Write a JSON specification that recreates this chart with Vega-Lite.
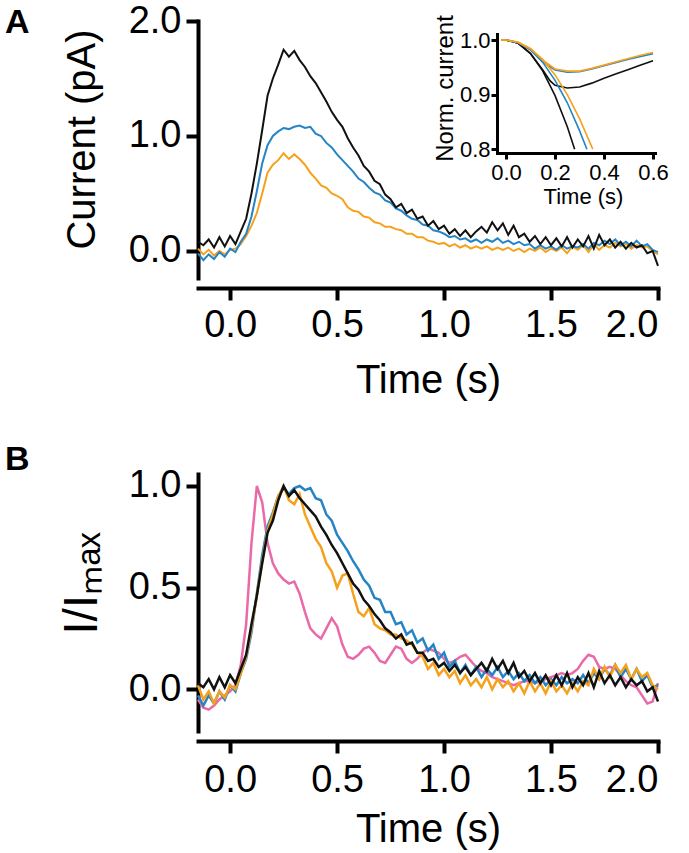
{
"$schema":"https://vega.github.io/schema/vega-lite/v6.json",
"background":"white",
"padding":{"left":5,"top":2,"right":0,"bottom":5},
"config":{"view":{"stroke":null},"font":"Liberation Sans",
"axis":{"grid":false,"domainColor":"black","tickColor":"black","labelColor":"black","titleColor":"black","labelFont":"Liberation Sans","titleFont":"Liberation Sans","titleFontWeight":"normal","domainCap":"square"}},
"datasets":{
"A":[
{"s":"o","t":-0.15,"v":0.02},{"s":"o","t":-0.125,"v":-0.03},{"s":"o","t":-0.1,"v":0.01},{"s":"o","t":-0.075,"v":-0.04},{"s":"o","t":-0.05,"v":0.0},{"s":"o","t":-0.025,"v":-0.03},{"s":"o","t":0,"v":0.01},{"s":"o","t":0.025,"v":0.02},{"s":"o","t":0.05,"v":0.06},{"s":"o","t":0.075,"v":0.13},{"s":"o","t":0.1,"v":0.22},{"s":"o","t":0.125,"v":0.33},{"s":"o","t":0.15,"v":0.5},{"s":"o","t":0.175,"v":0.68},{"s":"o","t":0.2,"v":0.75},{"s":"o","t":0.225,"v":0.79},{"s":"o","t":0.25,"v":0.85},{"s":"o","t":0.275,"v":0.8},{"s":"o","t":0.3,"v":0.84},{"s":"o","t":0.325,"v":0.8},{"s":"o","t":0.35,"v":0.75},{"s":"o","t":0.375,"v":0.68},{"s":"o","t":0.4,"v":0.63},{"s":"o","t":0.425,"v":0.57},{"s":"o","t":0.45,"v":0.55},{"s":"o","t":0.475,"v":0.5},{"s":"o","t":0.5,"v":0.48},{"s":"o","t":0.525,"v":0.45},{"s":"o","t":0.55,"v":0.38},{"s":"o","t":0.575,"v":0.35},{"s":"o","t":0.6,"v":0.34},{"s":"o","t":0.625,"v":0.3},{"s":"o","t":0.65,"v":0.29},{"s":"o","t":0.675,"v":0.25},{"s":"o","t":0.7,"v":0.24},{"s":"o","t":0.725,"v":0.21},{"s":"o","t":0.75,"v":0.21},{"s":"o","t":0.775,"v":0.19},{"s":"o","t":0.8,"v":0.18},{"s":"o","t":0.825,"v":0.15},{"s":"o","t":0.85,"v":0.15},{"s":"o","t":0.875,"v":0.12},{"s":"o","t":0.9,"v":0.12},{"s":"o","t":0.925,"v":0.09},{"s":"o","t":0.95,"v":0.08},{"s":"o","t":0.975,"v":0.06},{"s":"o","t":1,"v":0.07},{"s":"o","t":1.025,"v":0.04},{"s":"o","t":1.05,"v":0.06},{"s":"o","t":1.075,"v":0.03},{"s":"o","t":1.1,"v":0.05},{"s":"o","t":1.125,"v":0.02},{"s":"o","t":1.15,"v":0.04},{"s":"o","t":1.175,"v":0.02},{"s":"o","t":1.2,"v":0.04},{"s":"o","t":1.225,"v":0.01},{"s":"o","t":1.25,"v":0.03},{"s":"o","t":1.275,"v":0.01},{"s":"o","t":1.3,"v":0.03},{"s":"o","t":1.325,"v":0.0},{"s":"o","t":1.35,"v":0.02},{"s":"o","t":1.375,"v":-0.01},{"s":"o","t":1.4,"v":0.02},{"s":"o","t":1.425,"v":0.0},{"s":"o","t":1.45,"v":0.03},{"s":"o","t":1.475,"v":-0.01},{"s":"o","t":1.5,"v":0.02},{"s":"o","t":1.525,"v":0.0},{"s":"o","t":1.55,"v":0.03},{"s":"o","t":1.575,"v":-0.02},{"s":"o","t":1.6,"v":0.04},{"s":"o","t":1.625,"v":0.01},{"s":"o","t":1.65,"v":0.05},{"s":"o","t":1.675,"v":-0.01},{"s":"o","t":1.7,"v":0.06},{"s":"o","t":1.725,"v":0.01},{"s":"o","t":1.75,"v":0.05},{"s":"o","t":1.775,"v":0.03},{"s":"o","t":1.8,"v":0.07},{"s":"o","t":1.825,"v":0.04},{"s":"o","t":1.85,"v":0.06},{"s":"o","t":1.875,"v":0.02},{"s":"o","t":1.9,"v":0.05},{"s":"o","t":1.925,"v":0.03},{"s":"o","t":1.95,"v":0.04},{"s":"o","t":1.975,"v":0.0},{"s":"o","t":2,"v":-0.03},
{"s":"b","t":-0.15,"v":-0.02},{"s":"b","t":-0.125,"v":-0.08},{"s":"b","t":-0.1,"v":-0.03},{"s":"b","t":-0.075,"v":-0.07},{"s":"b","t":-0.05,"v":-0.01},{"s":"b","t":-0.025,"v":-0.05},{"s":"b","t":0,"v":0.02},{"s":"b","t":0.025,"v":-0.01},{"s":"b","t":0.05,"v":0.08},{"s":"b","t":0.075,"v":0.15},{"s":"b","t":0.1,"v":0.3},{"s":"b","t":0.125,"v":0.52},{"s":"b","t":0.15,"v":0.76},{"s":"b","t":0.175,"v":0.92},{"s":"b","t":0.2,"v":1.0},{"s":"b","t":0.225,"v":1.04},{"s":"b","t":0.25,"v":1.07},{"s":"b","t":0.275,"v":1.06},{"s":"b","t":0.3,"v":1.08},{"s":"b","t":0.325,"v":1.09},{"s":"b","t":0.35,"v":1.07},{"s":"b","t":0.375,"v":1.08},{"s":"b","t":0.4,"v":1.02},{"s":"b","t":0.425,"v":1.0},{"s":"b","t":0.45,"v":0.94},{"s":"b","t":0.475,"v":0.9},{"s":"b","t":0.5,"v":0.84},{"s":"b","t":0.525,"v":0.79},{"s":"b","t":0.55,"v":0.74},{"s":"b","t":0.575,"v":0.69},{"s":"b","t":0.6,"v":0.63},{"s":"b","t":0.625,"v":0.6},{"s":"b","t":0.65,"v":0.55},{"s":"b","t":0.675,"v":0.51},{"s":"b","t":0.7,"v":0.49},{"s":"b","t":0.725,"v":0.44},{"s":"b","t":0.75,"v":0.42},{"s":"b","t":0.775,"v":0.37},{"s":"b","t":0.8,"v":0.35},{"s":"b","t":0.825,"v":0.31},{"s":"b","t":0.85,"v":0.28},{"s":"b","t":0.875,"v":0.27},{"s":"b","t":0.9,"v":0.23},{"s":"b","t":0.925,"v":0.22},{"s":"b","t":0.95,"v":0.18},{"s":"b","t":0.975,"v":0.17},{"s":"b","t":1,"v":0.15},{"s":"b","t":1.025,"v":0.12},{"s":"b","t":1.05,"v":0.13},{"s":"b","t":1.075,"v":0.1},{"s":"b","t":1.1,"v":0.11},{"s":"b","t":1.125,"v":0.08},{"s":"b","t":1.15,"v":0.1},{"s":"b","t":1.175,"v":0.07},{"s":"b","t":1.2,"v":0.1},{"s":"b","t":1.225,"v":0.08},{"s":"b","t":1.25,"v":0.11},{"s":"b","t":1.275,"v":0.07},{"s":"b","t":1.3,"v":0.09},{"s":"b","t":1.325,"v":0.06},{"s":"b","t":1.35,"v":0.08},{"s":"b","t":1.375,"v":0.05},{"s":"b","t":1.4,"v":0.06},{"s":"b","t":1.425,"v":0.02},{"s":"b","t":1.45,"v":0.05},{"s":"b","t":1.475,"v":0.02},{"s":"b","t":1.5,"v":0.04},{"s":"b","t":1.525,"v":0.01},{"s":"b","t":1.55,"v":0.05},{"s":"b","t":1.575,"v":0.02},{"s":"b","t":1.6,"v":0.04},{"s":"b","t":1.625,"v":0.03},{"s":"b","t":1.65,"v":0.06},{"s":"b","t":1.675,"v":0.02},{"s":"b","t":1.7,"v":0.07},{"s":"b","t":1.725,"v":0.05},{"s":"b","t":1.75,"v":0.09},{"s":"b","t":1.775,"v":0.06},{"s":"b","t":1.8,"v":0.1},{"s":"b","t":1.825,"v":0.05},{"s":"b","t":1.85,"v":0.08},{"s":"b","t":1.875,"v":0.04},{"s":"b","t":1.9,"v":0.09},{"s":"b","t":1.925,"v":0.04},{"s":"b","t":1.95,"v":0.06},{"s":"b","t":1.975,"v":0.01},{"s":"b","t":2,"v":-0.01},
{"s":"k","t":-0.15,"v":0.08},{"s":"k","t":-0.125,"v":0.05},{"s":"k","t":-0.1,"v":0.1},{"s":"k","t":-0.075,"v":0.03},{"s":"k","t":-0.05,"v":0.12},{"s":"k","t":-0.025,"v":0.04},{"s":"k","t":0,"v":0.13},{"s":"k","t":0.025,"v":0.06},{"s":"k","t":0.05,"v":0.17},{"s":"k","t":0.075,"v":0.28},{"s":"k","t":0.1,"v":0.5},{"s":"k","t":0.125,"v":0.76},{"s":"k","t":0.15,"v":1.05},{"s":"k","t":0.175,"v":1.35},{"s":"k","t":0.2,"v":1.5},{"s":"k","t":0.225,"v":1.62},{"s":"k","t":0.25,"v":1.75},{"s":"k","t":0.275,"v":1.69},{"s":"k","t":0.3,"v":1.74},{"s":"k","t":0.325,"v":1.66},{"s":"k","t":0.35,"v":1.6},{"s":"k","t":0.375,"v":1.52},{"s":"k","t":0.4,"v":1.46},{"s":"k","t":0.425,"v":1.38},{"s":"k","t":0.45,"v":1.3},{"s":"k","t":0.475,"v":1.21},{"s":"k","t":0.5,"v":1.14},{"s":"k","t":0.525,"v":1.08},{"s":"k","t":0.55,"v":0.98},{"s":"k","t":0.575,"v":0.9},{"s":"k","t":0.6,"v":0.83},{"s":"k","t":0.625,"v":0.74},{"s":"k","t":0.65,"v":0.69},{"s":"k","t":0.675,"v":0.61},{"s":"k","t":0.7,"v":0.58},{"s":"k","t":0.725,"v":0.49},{"s":"k","t":0.75,"v":0.45},{"s":"k","t":0.775,"v":0.38},{"s":"k","t":0.8,"v":0.41},{"s":"k","t":0.825,"v":0.33},{"s":"k","t":0.85,"v":0.36},{"s":"k","t":0.875,"v":0.28},{"s":"k","t":0.9,"v":0.3},{"s":"k","t":0.925,"v":0.22},{"s":"k","t":0.95,"v":0.26},{"s":"k","t":0.975,"v":0.19},{"s":"k","t":1,"v":0.22},{"s":"k","t":1.025,"v":0.15},{"s":"k","t":1.05,"v":0.19},{"s":"k","t":1.075,"v":0.13},{"s":"k","t":1.1,"v":0.18},{"s":"k","t":1.125,"v":0.12},{"s":"k","t":1.15,"v":0.17},{"s":"k","t":1.175,"v":0.21},{"s":"k","t":1.2,"v":0.16},{"s":"k","t":1.225,"v":0.25},{"s":"k","t":1.25,"v":0.18},{"s":"k","t":1.275,"v":0.24},{"s":"k","t":1.3,"v":0.14},{"s":"k","t":1.325,"v":0.22},{"s":"k","t":1.35,"v":0.12},{"s":"k","t":1.375,"v":0.15},{"s":"k","t":1.4,"v":0.08},{"s":"k","t":1.425,"v":0.13},{"s":"k","t":1.45,"v":0.06},{"s":"k","t":1.475,"v":0.12},{"s":"k","t":1.5,"v":0.05},{"s":"k","t":1.525,"v":0.11},{"s":"k","t":1.55,"v":0.04},{"s":"k","t":1.575,"v":0.12},{"s":"k","t":1.6,"v":0.03},{"s":"k","t":1.625,"v":0.1},{"s":"k","t":1.65,"v":0.04},{"s":"k","t":1.675,"v":0.13},{"s":"k","t":1.7,"v":0.02},{"s":"k","t":1.725,"v":0.14},{"s":"k","t":1.75,"v":0.05},{"s":"k","t":1.775,"v":0.1},{"s":"k","t":1.8,"v":0.03},{"s":"k","t":1.825,"v":0.08},{"s":"k","t":1.85,"v":0.02},{"s":"k","t":1.875,"v":0.07},{"s":"k","t":1.9,"v":0.03},{"s":"k","t":1.925,"v":0.05},{"s":"k","t":1.95,"v":-0.02},{"s":"k","t":1.975,"v":0.0},{"s":"k","t":2,"v":-0.13}
],
"B":[
{"s":"p","t":-0.15,"v":-0.05},{"s":"p","t":-0.125,"v":-0.09},{"s":"p","t":-0.1,"v":-0.1},{"s":"p","t":-0.075,"v":-0.08},{"s":"p","t":-0.05,"v":-0.05},{"s":"p","t":-0.025,"v":-0.03},{"s":"p","t":0,"v":-0.01},{"s":"p","t":0.025,"v":0.02},{"s":"p","t":0.05,"v":0.12},{"s":"p","t":0.075,"v":0.32},{"s":"p","t":0.1,"v":0.72},{"s":"p","t":0.125,"v":1.0},{"s":"p","t":0.15,"v":0.92},{"s":"p","t":0.175,"v":0.72},{"s":"p","t":0.2,"v":0.62},{"s":"p","t":0.225,"v":0.57},{"s":"p","t":0.25,"v":0.54},{"s":"p","t":0.275,"v":0.52},{"s":"p","t":0.3,"v":0.53},{"s":"p","t":0.325,"v":0.47},{"s":"p","t":0.35,"v":0.38},{"s":"p","t":0.375,"v":0.3},{"s":"p","t":0.4,"v":0.27},{"s":"p","t":0.425,"v":0.25},{"s":"p","t":0.45,"v":0.3},{"s":"p","t":0.475,"v":0.35},{"s":"p","t":0.5,"v":0.31},{"s":"p","t":0.525,"v":0.22},{"s":"p","t":0.55,"v":0.16},{"s":"p","t":0.575,"v":0.15},{"s":"p","t":0.6,"v":0.17},{"s":"p","t":0.625,"v":0.2},{"s":"p","t":0.65,"v":0.21},{"s":"p","t":0.675,"v":0.18},{"s":"p","t":0.7,"v":0.14},{"s":"p","t":0.725,"v":0.13},{"s":"p","t":0.75,"v":0.17},{"s":"p","t":0.775,"v":0.21},{"s":"p","t":0.8,"v":0.2},{"s":"p","t":0.825,"v":0.15},{"s":"p","t":0.85,"v":0.13},{"s":"p","t":0.875,"v":0.15},{"s":"p","t":0.9,"v":0.18},{"s":"p","t":0.925,"v":0.2},{"s":"p","t":0.95,"v":0.19},{"s":"p","t":0.975,"v":0.18},{"s":"p","t":1,"v":0.15},{"s":"p","t":1.025,"v":0.13},{"s":"p","t":1.05,"v":0.14},{"s":"p","t":1.075,"v":0.16},{"s":"p","t":1.1,"v":0.17},{"s":"p","t":1.125,"v":0.14},{"s":"p","t":1.15,"v":0.11},{"s":"p","t":1.175,"v":0.09},{"s":"p","t":1.2,"v":0.08},{"s":"p","t":1.225,"v":0.06},{"s":"p","t":1.25,"v":0.05},{"s":"p","t":1.275,"v":0.04},{"s":"p","t":1.3,"v":0.03},{"s":"p","t":1.325,"v":0.02},{"s":"p","t":1.35,"v":0.03},{"s":"p","t":1.375,"v":0.04},{"s":"p","t":1.4,"v":0.04},{"s":"p","t":1.425,"v":0.03},{"s":"p","t":1.45,"v":0.04},{"s":"p","t":1.475,"v":0.05},{"s":"p","t":1.5,"v":0.06},{"s":"p","t":1.525,"v":0.07},{"s":"p","t":1.55,"v":0.08},{"s":"p","t":1.575,"v":0.07},{"s":"p","t":1.6,"v":0.08},{"s":"p","t":1.625,"v":0.1},{"s":"p","t":1.65,"v":0.14},{"s":"p","t":1.675,"v":0.17},{"s":"p","t":1.7,"v":0.16},{"s":"p","t":1.725,"v":0.11},{"s":"p","t":1.75,"v":0.1},{"s":"p","t":1.775,"v":0.11},{"s":"p","t":1.8,"v":0.1},{"s":"p","t":1.825,"v":0.07},{"s":"p","t":1.85,"v":0.04},{"s":"p","t":1.875,"v":0.02},{"s":"p","t":1.9,"v":0.01},{"s":"p","t":1.925,"v":-0.03},{"s":"p","t":1.95,"v":-0.07},{"s":"p","t":1.975,"v":-0.06},{"s":"p","t":2,"v":0.03},
{"s":"b","t":-0.15,"v":-0.03},{"s":"b","t":-0.125,"v":-0.08},{"s":"b","t":-0.1,"v":-0.03},{"s":"b","t":-0.075,"v":-0.07},{"s":"b","t":-0.05,"v":-0.01},{"s":"b","t":-0.025,"v":-0.05},{"s":"b","t":0,"v":0.02},{"s":"b","t":0.025,"v":-0.01},{"s":"b","t":0.05,"v":0.08},{"s":"b","t":0.075,"v":0.15},{"s":"b","t":0.1,"v":0.28},{"s":"b","t":0.125,"v":0.47},{"s":"b","t":0.15,"v":0.66},{"s":"b","t":0.175,"v":0.8},{"s":"b","t":0.2,"v":0.87},{"s":"b","t":0.225,"v":0.95},{"s":"b","t":0.25,"v":0.99},{"s":"b","t":0.275,"v":0.96},{"s":"b","t":0.3,"v":0.99},{"s":"b","t":0.325,"v":1.0},{"s":"b","t":0.35,"v":0.98},{"s":"b","t":0.375,"v":0.99},{"s":"b","t":0.4,"v":0.94},{"s":"b","t":0.425,"v":0.93},{"s":"b","t":0.45,"v":0.86},{"s":"b","t":0.475,"v":0.83},{"s":"b","t":0.5,"v":0.76},{"s":"b","t":0.525,"v":0.72},{"s":"b","t":0.55,"v":0.68},{"s":"b","t":0.575,"v":0.63},{"s":"b","t":0.6,"v":0.59},{"s":"b","t":0.625,"v":0.54},{"s":"b","t":0.65,"v":0.51},{"s":"b","t":0.675,"v":0.45},{"s":"b","t":0.7,"v":0.44},{"s":"b","t":0.725,"v":0.38},{"s":"b","t":0.75,"v":0.38},{"s":"b","t":0.775,"v":0.32},{"s":"b","t":0.8,"v":0.33},{"s":"b","t":0.825,"v":0.27},{"s":"b","t":0.85,"v":0.29},{"s":"b","t":0.875,"v":0.23},{"s":"b","t":0.9,"v":0.25},{"s":"b","t":0.925,"v":0.19},{"s":"b","t":0.95,"v":0.22},{"s":"b","t":0.975,"v":0.15},{"s":"b","t":1,"v":0.18},{"s":"b","t":1.025,"v":0.11},{"s":"b","t":1.05,"v":0.14},{"s":"b","t":1.075,"v":0.08},{"s":"b","t":1.1,"v":0.12},{"s":"b","t":1.125,"v":0.07},{"s":"b","t":1.15,"v":0.11},{"s":"b","t":1.175,"v":0.06},{"s":"b","t":1.2,"v":0.1},{"s":"b","t":1.225,"v":0.07},{"s":"b","t":1.25,"v":0.11},{"s":"b","t":1.275,"v":0.06},{"s":"b","t":1.3,"v":0.09},{"s":"b","t":1.325,"v":0.05},{"s":"b","t":1.35,"v":0.08},{"s":"b","t":1.375,"v":0.04},{"s":"b","t":1.4,"v":0.07},{"s":"b","t":1.425,"v":0.03},{"s":"b","t":1.45,"v":0.06},{"s":"b","t":1.475,"v":0.02},{"s":"b","t":1.5,"v":0.05},{"s":"b","t":1.525,"v":0.02},{"s":"b","t":1.55,"v":0.06},{"s":"b","t":1.575,"v":0.03},{"s":"b","t":1.6,"v":0.05},{"s":"b","t":1.625,"v":0.03},{"s":"b","t":1.65,"v":0.07},{"s":"b","t":1.675,"v":0.03},{"s":"b","t":1.7,"v":0.08},{"s":"b","t":1.725,"v":0.05},{"s":"b","t":1.75,"v":0.1},{"s":"b","t":1.775,"v":0.07},{"s":"b","t":1.8,"v":0.12},{"s":"b","t":1.825,"v":0.06},{"s":"b","t":1.85,"v":0.1},{"s":"b","t":1.875,"v":0.05},{"s":"b","t":1.9,"v":0.1},{"s":"b","t":1.925,"v":0.04},{"s":"b","t":1.95,"v":0.07},{"s":"b","t":1.975,"v":0.01},{"s":"b","t":2,"v":0.02},
{"s":"o","t":-0.15,"v":0.02},{"s":"o","t":-0.125,"v":-0.05},{"s":"o","t":-0.1,"v":-0.01},{"s":"o","t":-0.075,"v":-0.07},{"s":"o","t":-0.05,"v":-0.01},{"s":"o","t":-0.025,"v":-0.04},{"s":"o","t":0,"v":0.02},{"s":"o","t":0.025,"v":0.0},{"s":"o","t":0.05,"v":0.08},{"s":"o","t":0.075,"v":0.16},{"s":"o","t":0.1,"v":0.3},{"s":"o","t":0.125,"v":0.46},{"s":"o","t":0.15,"v":0.63},{"s":"o","t":0.175,"v":0.78},{"s":"o","t":0.2,"v":0.86},{"s":"o","t":0.225,"v":0.95},{"s":"o","t":0.25,"v":1.0},{"s":"o","t":0.275,"v":0.93},{"s":"o","t":0.3,"v":0.91},{"s":"o","t":0.325,"v":0.96},{"s":"o","t":0.35,"v":0.86},{"s":"o","t":0.375,"v":0.8},{"s":"o","t":0.4,"v":0.74},{"s":"o","t":0.425,"v":0.7},{"s":"o","t":0.45,"v":0.62},{"s":"o","t":0.475,"v":0.58},{"s":"o","t":0.5,"v":0.5},{"s":"o","t":0.525,"v":0.56},{"s":"o","t":0.55,"v":0.57},{"s":"o","t":0.575,"v":0.47},{"s":"o","t":0.6,"v":0.38},{"s":"o","t":0.625,"v":0.36},{"s":"o","t":0.65,"v":0.4},{"s":"o","t":0.675,"v":0.32},{"s":"o","t":0.7,"v":0.3},{"s":"o","t":0.725,"v":0.29},{"s":"o","t":0.75,"v":0.27},{"s":"o","t":0.775,"v":0.27},{"s":"o","t":0.8,"v":0.25},{"s":"o","t":0.825,"v":0.24},{"s":"o","t":0.85,"v":0.22},{"s":"o","t":0.875,"v":0.18},{"s":"o","t":0.9,"v":0.16},{"s":"o","t":0.925,"v":0.1},{"s":"o","t":0.95,"v":0.13},{"s":"o","t":0.975,"v":0.07},{"s":"o","t":1,"v":0.1},{"s":"o","t":1.025,"v":0.06},{"s":"o","t":1.05,"v":0.09},{"s":"o","t":1.075,"v":0.03},{"s":"o","t":1.1,"v":0.07},{"s":"o","t":1.125,"v":0.02},{"s":"o","t":1.15,"v":0.05},{"s":"o","t":1.175,"v":0.01},{"s":"o","t":1.2,"v":0.06},{"s":"o","t":1.225,"v":0.0},{"s":"o","t":1.25,"v":0.05},{"s":"o","t":1.275,"v":0.01},{"s":"o","t":1.3,"v":0.04},{"s":"o","t":1.325,"v":-0.01},{"s":"o","t":1.35,"v":0.03},{"s":"o","t":1.375,"v":-0.02},{"s":"o","t":1.4,"v":0.04},{"s":"o","t":1.425,"v":-0.01},{"s":"o","t":1.45,"v":0.03},{"s":"o","t":1.475,"v":-0.02},{"s":"o","t":1.5,"v":0.04},{"s":"o","t":1.525,"v":-0.01},{"s":"o","t":1.55,"v":0.02},{"s":"o","t":1.575,"v":-0.02},{"s":"o","t":1.6,"v":0.03},{"s":"o","t":1.625,"v":-0.01},{"s":"o","t":1.65,"v":0.04},{"s":"o","t":1.675,"v":0.02},{"s":"o","t":1.7,"v":0.1},{"s":"o","t":1.725,"v":0.05},{"s":"o","t":1.75,"v":0.11},{"s":"o","t":1.775,"v":0.06},{"s":"o","t":1.8,"v":0.12},{"s":"o","t":1.825,"v":0.08},{"s":"o","t":1.85,"v":0.12},{"s":"o","t":1.875,"v":0.05},{"s":"o","t":1.9,"v":0.1},{"s":"o","t":1.925,"v":0.06},{"s":"o","t":1.95,"v":0.08},{"s":"o","t":1.975,"v":0.02},{"s":"o","t":2,"v":0.0},
{"s":"k","t":-0.15,"v":0.03},{"s":"k","t":-0.125,"v":0.01},{"s":"k","t":-0.1,"v":0.05},{"s":"k","t":-0.075,"v":0.0},{"s":"k","t":-0.05,"v":0.06},{"s":"k","t":-0.025,"v":0.01},{"s":"k","t":0,"v":0.07},{"s":"k","t":0.025,"v":0.03},{"s":"k","t":0.05,"v":0.1},{"s":"k","t":0.075,"v":0.17},{"s":"k","t":0.1,"v":0.32},{"s":"k","t":0.125,"v":0.46},{"s":"k","t":0.15,"v":0.62},{"s":"k","t":0.175,"v":0.77},{"s":"k","t":0.2,"v":0.83},{"s":"k","t":0.225,"v":0.93},{"s":"k","t":0.25,"v":1.0},{"s":"k","t":0.275,"v":0.95},{"s":"k","t":0.3,"v":0.98},{"s":"k","t":0.325,"v":0.94},{"s":"k","t":0.35,"v":0.91},{"s":"k","t":0.375,"v":0.88},{"s":"k","t":0.4,"v":0.85},{"s":"k","t":0.425,"v":0.8},{"s":"k","t":0.45,"v":0.76},{"s":"k","t":0.475,"v":0.71},{"s":"k","t":0.5,"v":0.67},{"s":"k","t":0.525,"v":0.62},{"s":"k","t":0.55,"v":0.57},{"s":"k","t":0.575,"v":0.52},{"s":"k","t":0.6,"v":0.49},{"s":"k","t":0.625,"v":0.44},{"s":"k","t":0.65,"v":0.41},{"s":"k","t":0.675,"v":0.37},{"s":"k","t":0.7,"v":0.34},{"s":"k","t":0.725,"v":0.3},{"s":"k","t":0.75,"v":0.28},{"s":"k","t":0.775,"v":0.25},{"s":"k","t":0.8,"v":0.27},{"s":"k","t":0.825,"v":0.22},{"s":"k","t":0.85,"v":0.23},{"s":"k","t":0.875,"v":0.18},{"s":"k","t":0.9,"v":0.18},{"s":"k","t":0.925,"v":0.14},{"s":"k","t":0.95,"v":0.15},{"s":"k","t":0.975,"v":0.11},{"s":"k","t":1,"v":0.13},{"s":"k","t":1.025,"v":0.09},{"s":"k","t":1.05,"v":0.12},{"s":"k","t":1.075,"v":0.08},{"s":"k","t":1.1,"v":0.11},{"s":"k","t":1.125,"v":0.07},{"s":"k","t":1.15,"v":0.1},{"s":"k","t":1.175,"v":0.13},{"s":"k","t":1.2,"v":0.09},{"s":"k","t":1.225,"v":0.15},{"s":"k","t":1.25,"v":0.1},{"s":"k","t":1.275,"v":0.14},{"s":"k","t":1.3,"v":0.08},{"s":"k","t":1.325,"v":0.13},{"s":"k","t":1.35,"v":0.06},{"s":"k","t":1.375,"v":0.09},{"s":"k","t":1.4,"v":0.04},{"s":"k","t":1.425,"v":0.08},{"s":"k","t":1.45,"v":0.03},{"s":"k","t":1.475,"v":0.07},{"s":"k","t":1.5,"v":0.02},{"s":"k","t":1.525,"v":0.07},{"s":"k","t":1.55,"v":0.02},{"s":"k","t":1.575,"v":0.08},{"s":"k","t":1.6,"v":0.01},{"s":"k","t":1.625,"v":0.06},{"s":"k","t":1.65,"v":0.02},{"s":"k","t":1.675,"v":0.08},{"s":"k","t":1.7,"v":0.01},{"s":"k","t":1.725,"v":0.09},{"s":"k","t":1.75,"v":0.03},{"s":"k","t":1.775,"v":0.07},{"s":"k","t":1.8,"v":0.02},{"s":"k","t":1.825,"v":0.06},{"s":"k","t":1.85,"v":0.01},{"s":"k","t":1.875,"v":0.05},{"s":"k","t":1.9,"v":0.02},{"s":"k","t":1.925,"v":0.04},{"s":"k","t":1.95,"v":-0.01},{"s":"k","t":1.975,"v":0.01},{"s":"k","t":2,"v":-0.06}
],
"I":[
{"s":"kf","c":"k","t":-0.02,"v":1.0},{"s":"kf","c":"k","t":0,"v":1.0},{"s":"kf","c":"k","t":0.05,"v":0.994},{"s":"kf","c":"k","t":0.1,"v":0.975},{"s":"kf","c":"k","t":0.15,"v":0.943},{"s":"kf","c":"k","t":0.2,"v":0.898},{"s":"kf","c":"k","t":0.25,"v":0.841},{"s":"kf","c":"k","t":0.28,"v":0.8},
{"s":"kd","c":"k","t":-0.02,"v":1.0},{"s":"kd","c":"k","t":0,"v":1.0},{"s":"kd","c":"k","t":0.05,"v":0.994},{"s":"kd","c":"k","t":0.1,"v":0.975},{"s":"kd","c":"k","t":0.15,"v":0.945},{"s":"kd","c":"k","t":0.18,"v":0.925},{"s":"kd","c":"k","t":0.2,"v":0.917},{"s":"kd","c":"k","t":0.25,"v":0.912},{"s":"kd","c":"k","t":0.3,"v":0.914},{"s":"kd","c":"k","t":0.35,"v":0.921},{"s":"kd","c":"k","t":0.4,"v":0.93},{"s":"kd","c":"k","t":0.45,"v":0.938},{"s":"kd","c":"k","t":0.5,"v":0.946},{"s":"kd","c":"k","t":0.55,"v":0.954},{"s":"kd","c":"k","t":0.6,"v":0.962},
{"s":"bf","c":"b","t":-0.02,"v":1.0},{"s":"bf","c":"b","t":0,"v":1.0},{"s":"bf","c":"b","t":0.05,"v":0.995},{"s":"bf","c":"b","t":0.1,"v":0.982},{"s":"bf","c":"b","t":0.15,"v":0.959},{"s":"bf","c":"b","t":0.2,"v":0.926},{"s":"bf","c":"b","t":0.25,"v":0.885},{"s":"bf","c":"b","t":0.3,"v":0.834},{"s":"bf","c":"b","t":0.33,"v":0.8},
{"s":"bd","c":"b","t":-0.02,"v":1.0},{"s":"bd","c":"b","t":0,"v":1.0},{"s":"bd","c":"b","t":0.05,"v":0.995},{"s":"bd","c":"b","t":0.1,"v":0.982},{"s":"bd","c":"b","t":0.15,"v":0.96},{"s":"bd","c":"b","t":0.2,"v":0.945},{"s":"bd","c":"b","t":0.25,"v":0.941},{"s":"bd","c":"b","t":0.3,"v":0.942},{"s":"bd","c":"b","t":0.35,"v":0.947},{"s":"bd","c":"b","t":0.4,"v":0.953},{"s":"bd","c":"b","t":0.45,"v":0.959},{"s":"bd","c":"b","t":0.5,"v":0.965},{"s":"bd","c":"b","t":0.55,"v":0.97},{"s":"bd","c":"b","t":0.6,"v":0.975},
{"s":"of","c":"o","t":-0.02,"v":1.0},{"s":"of","c":"o","t":0,"v":1.0},{"s":"of","c":"o","t":0.05,"v":0.996},{"s":"of","c":"o","t":0.1,"v":0.984},{"s":"of","c":"o","t":0.15,"v":0.964},{"s":"of","c":"o","t":0.2,"v":0.936},{"s":"of","c":"o","t":0.25,"v":0.9},{"s":"of","c":"o","t":0.3,"v":0.856},{"s":"of","c":"o","t":0.354,"v":0.8},
{"s":"od","c":"o","t":-0.02,"v":1.0},{"s":"od","c":"o","t":0,"v":1.0},{"s":"od","c":"o","t":0.05,"v":0.996},{"s":"od","c":"o","t":0.1,"v":0.984},{"s":"od","c":"o","t":0.15,"v":0.963},{"s":"od","c":"o","t":0.2,"v":0.947},{"s":"od","c":"o","t":0.25,"v":0.943},{"s":"od","c":"o","t":0.3,"v":0.943},{"s":"od","c":"o","t":0.35,"v":0.948},{"s":"od","c":"o","t":0.4,"v":0.954},{"s":"od","c":"o","t":0.45,"v":0.96},{"s":"od","c":"o","t":0.5,"v":0.966},{"s":"od","c":"o","t":0.55,"v":0.972},{"s":"od","c":"o","t":0.6,"v":0.977}
]
},
"bounds":"flush",
"spacing":196,
"vconcat":[
{"width":460,"height":257,
"title":{"text":"A","anchor":"start","frame":"group","fontSize":34,"fontWeight":"bold","font":"Liberation Sans","color":"black","dx":-193,"offset":0,"baseline":"alphabetic","dy":65},
"layer":[
{"data":{"name":"A"},
"mark":{"type":"line","strokeWidth":2},
"encoding":{
"x":{"field":"t","type":"quantitative","scale":{"domain":[-0.15,2.0],"nice":false,"zero":false},"axis":{"orient":"bottom","values":[0,0.5,1,1.5,2],"format":".1f","title":"Time (s)","offset":10,"domainWidth":4,"tickWidth":4,"tickSize":12,"labelFontSize":38,"titleFontSize":40,"labelPadding":6,"titlePadding":16}},
"y":{"field":"v","type":"quantitative","scale":{"domain":[-0.235,2.0],"nice":false,"zero":false},"axis":{"orient":"left","values":[0,1,2],"format":".1f","title":"Current (pA)","domainWidth":4,"tickWidth":4,"tickSize":12,"labelFontSize":38,"titleFontSize":40,"labelPadding":5,"titlePadding":26,"titleY":118}},
"color":{"field":"s","type":"nominal","scale":{"domain":["o","b","k","p"],"range":["#f6a11c","#2484c6","#111111","#ea6aa8"]},"legend":null}
}},
{"data":{"name":"I"},
"mark":{"type":"line","strokeWidth":1.6},
"encoding":{
"x":{"field":"t","type":"quantitative","scale":{"domain":[-0.037,0.608],"range":[299,457],"nice":false,"zero":false},"axis":{"orient":"bottom","offset":-125,"values":[0,0.2,0.4,0.6],"format":".1f","title":"Time (s)","domainWidth":3,"tickWidth":3,"tickSize":6,"labelFontSize":22,"titleFontSize":22,"labelPadding":3,"titlePadding":3,"titleX":385}},
"y":{"field":"v","type":"quantitative","scale":{"domain":[0.793,1.011],"range":[132,13],"nice":false,"zero":false},"axis":{"orient":"left","offset":-299,"values":[0.8,0.9,1.0],"format":".1f","title":"Norm. current","domainWidth":3,"tickWidth":3,"tickSize":6,"labelFontSize":22,"titleFontSize":24,"labelPadding":1,"titlePadding":2,"titleY":67}},
"detail":{"field":"s","type":"nominal"},
"color":{"field":"c","type":"nominal","scale":{"domain":["o","b","k","p"],"range":["#f6a11c","#2484c6","#111111","#ea6aa8"]},"legend":null}
}}
],
"resolve":{"scale":{"x":"independent","y":"independent"},"axis":{"x":"independent","y":"independent"}}
},
{"width":460,"height":257,
"title":{"text":"B","anchor":"start","frame":"group","fontSize":34,"fontWeight":"bold","font":"Liberation Sans","color":"black","dx":-193,"offset":0,"baseline":"alphabetic","dy":37},
"data":{"name":"B"},
"mark":{"type":"line","strokeWidth":2.5},
"encoding":{
"x":{"field":"t","type":"quantitative","scale":{"domain":[-0.15,2.0],"nice":false,"zero":false},"axis":{"values":[0,0.5,1,1.5,2],"format":".1f","title":"Time (s)","offset":10,"domainWidth":4,"tickWidth":4,"tickSize":12,"labelFontSize":38,"titleFontSize":40,"labelPadding":8,"titlePadding":10}},
"y":{"field":"v","type":"quantitative","scale":{"domain":[-0.205,1.059],"nice":false,"zero":false},"axis":{"values":[0,0.5,1],"format":".1f","title":"I/Iₘₐₓ","domainWidth":4,"tickWidth":4,"tickSize":12,"labelFontSize":38,"titleFontSize":48,"labelPadding":5,"titlePadding":22,"titleY":109}},
"color":{"field":"s","type":"nominal","scale":{"domain":["o","b","k","p"],"range":["#f6a11c","#2484c6","#111111","#ea6aa8"]},"legend":null}
}}
]
}
